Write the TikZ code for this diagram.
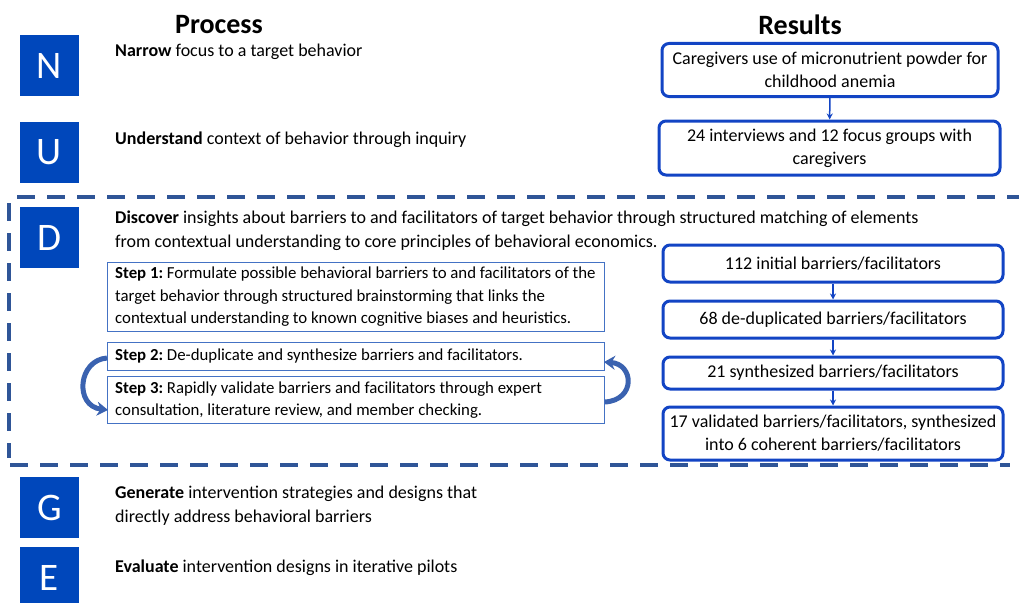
\documentclass[tikz,border=0pt]{standalone}
\usepackage{fontspec}
\setmainfont{Carlito}
\usetikzlibrary{arrows.meta}
\definecolor{sqblue}{RGB}{0,71,187}
\definecolor{resblue}{RGB}{18,68,196}
\definecolor{dashblue}{RGB}{47,85,151}
\definecolor{stepblue}{RGB}{68,114,196}
\definecolor{curveblue}{RGB}{58,98,176}
\begin{document}
\frenchspacing
\begin{tikzpicture}[x=1pt,y=-1pt,
  letter/.style={fill=sqblue,text=white,minimum width=59pt,minimum height=61pt,inner sep=0pt,font=\fontsize{39}{39}\selectfont},
  proc/.style={anchor=west,align=left,inner sep=0pt,font=\fontsize{18}{24}\selectfont},
  head/.style={font=\fontsize{28}{30}\selectfont\bfseries,inner sep=0pt},
  res/.style={draw=resblue,line width=3pt,rounded corners=7pt,align=center,inner sep=0pt,font=\fontsize{18}{23}\selectfont},
  stepbox/.style={draw=stepblue,line width=1pt,anchor=north west,inner sep=0pt,minimum width=497pt},
  steptext/.style={anchor=west,align=left,inner sep=0pt,font=\fontsize{16.8}{22.5}\selectfont},
  resarrow/.style={-{Stealth[length=6pt,width=6pt]},draw=resblue,line width=1.5pt},
  curve/.style={-{Stealth[length=11pt,width=14pt]},draw=curveblue,line width=5pt},
  region/.style={draw=dashblue,line width=4pt,dash pattern=on 18pt off 12pt}]
\useasboundingbox (0,0) rectangle (1019,602);
% headers
\node[head] (hproc) at (219,25) {Process};
\node[head] (hres) at (800,25) {Results};
% letter squares
\node[letter] (N) at (49.5,65.5) {N};
\node[letter] (U) at (49.5,152) {U};
\node[letter] (D) at (49.5,237.5) {D};
\node[letter] (G) at (49.5,507.5) {G};
\node[letter] (E) at (49.5,577.5) {E};
% process texts
\node[proc] (tN) at (115,52) {\textbf{Narrow} focus to a target behavior};
\node[proc] (tU) at (115,140) {\textbf{Understand} context of behavior through inquiry};
\node[proc] (tD) at (115,231) {\textbf{Discover} insights about barriers to and facilitators of target behavior through structured matching of elements\\from contextual understanding to core principles of behavioral economics.};
\node[proc] (tG) at (115,506) {\textbf{Generate} intervention strategies and designs that\\directly address behavioral barriers};
\node[proc] (tE) at (115,568) {\textbf{Evaluate} intervention designs in iterative pilots};
% step boxes
\node[stepbox,minimum height=69pt] (s1) at (107,262) {};
\node[stepbox,minimum height=28pt] (s2) at (107,342) {};
\node[stepbox,minimum height=47pt] (s3) at (107,376) {};
\node[steptext] (s1t) at ([xshift=8pt]s1.west) {\textbf{Step 1:} Formulate possible behavioral barriers to and facilitators of the\\target behavior through structured brainstorming that links the\\contextual understanding to known cognitive biases and heuristics.};
\node[steptext] (s2t) at ([xshift=8pt]s2.west) {\textbf{Step 2:} De-duplicate and synthesize barriers and facilitators.};
\node[steptext] (s3t) at ([xshift=8pt]s3.west) {\textbf{Step 3:} Rapidly validate barriers and facilitators through expert\\consultation, literature review, and member checking.};
% curved arrows
\coordinate (l1) at (107,358);
\coordinate (l2) at (108,410);
\coordinate (r1) at (605,402);
\coordinate (r2) at (604,362);
\draw[curve] (l1) .. controls (78,360) and (74,406) .. (l2);
\draw[curve] (r1) .. controls (636,400) and (634,364) .. (r2);
% results
\node[res,minimum width=336pt,minimum height=53pt] (r1b) at (830,70) {Caregivers use of micronutrient powder for\\childhood anemia};
\node[res,minimum width=341pt,minimum height=54pt] (r2b) at (829.5,148) {24 interviews and 12 focus groups with\\caregivers};
\node[res,minimum width=340pt,minimum height=37pt] (r3b) at (833,263.5) {112 initial barriers/facilitators};
\node[res,minimum width=340pt,minimum height=37pt] (r4b) at (833,319.5) {68 de-duplicated barriers/facilitators};
\node[res,minimum width=340pt,minimum height=32pt] (r5b) at (833,373) {21 synthesized barriers/facilitators};
\node[res,minimum width=340pt,minimum height=53pt] (r6b) at (833,433.5) {17 validated barriers/facilitators, synthesized\\into 6 coherent barriers/facilitators};
\draw[resarrow] (r1b) -- (r2b);
\draw[resarrow] (r3b) -- (r4b);
\draw[resarrow] (r4b) -- (r5b);
\draw[resarrow] (r5b) -- (r6b);
% dashed region
\coordinate (dt1) at (17,197);
\coordinate (dt2) at (1019,197);
\coordinate (dl1) at (9,203);
\coordinate (dl2) at (9,458);
\coordinate (db1) at (10,465);
\coordinate (db2) at (1010,465);
\draw[region] (dt1) -- (dt2);
\draw[region] (dl1) -- (dl2);
\draw[region] (db1) -- (db2);
\end{tikzpicture}
\end{document}
